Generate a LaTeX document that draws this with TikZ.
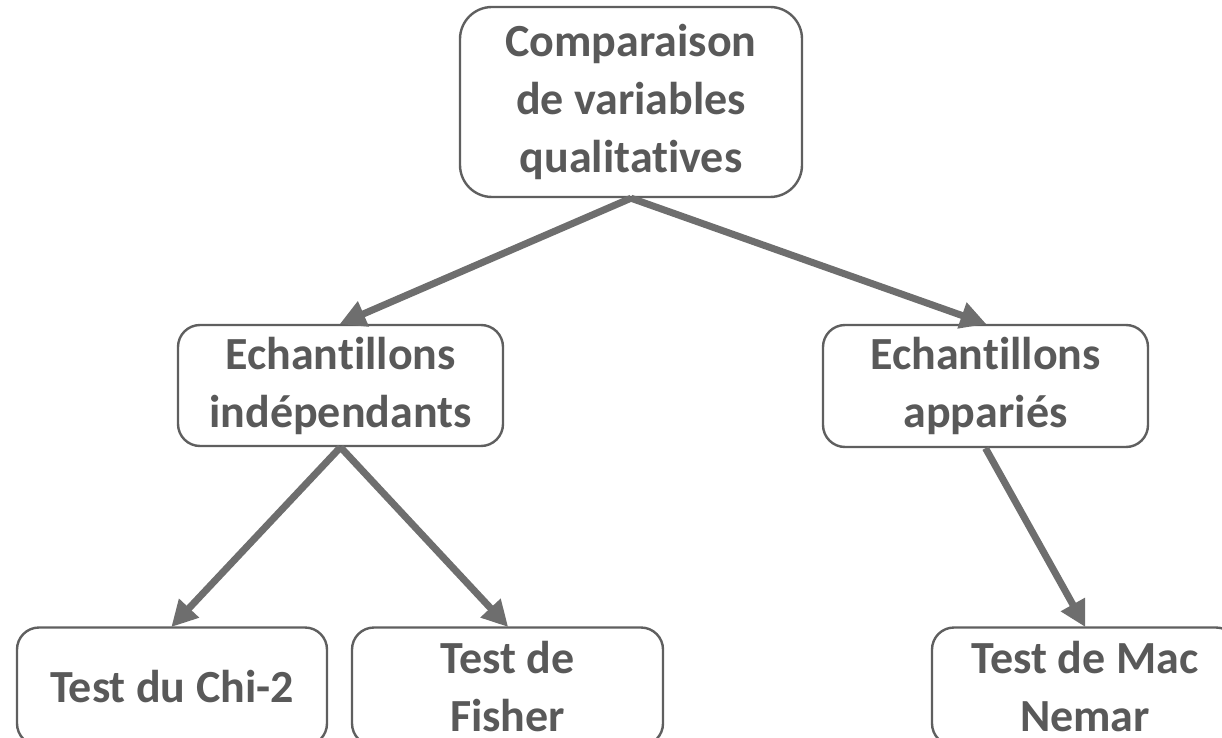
\documentclass[tikz,border=0pt]{standalone}
\usepackage{fontspec}
\setmainfont{Carlito}[Ligatures=NoCommon]
\usetikzlibrary{arrows.meta}
\definecolor{txtgray}{HTML}{595959}
\definecolor{boxgray}{HTML}{5F5F5F}
\definecolor{arrgray}{HTML}{6E6E6E}
\tikzset{
  box/.style={draw=boxgray, line width=2.4pt, fill=white, rounded corners=22pt,
    text=txtgray, align=center, inner sep=0pt,
    font=\fontsize{46}{58}\selectfont\bfseries},
  conn/.style={draw=arrgray, line width=7pt,
    -{Triangle[length=26pt,width=26pt]}, shorten >=-1pt}
}
\begin{document}
\begin{tikzpicture}[x=1pt,y=-1pt]
\useasboundingbox (0,0) rectangle (1222,738);
\node[box, rounded corners=32pt, minimum width=342pt, minimum height=190pt] (top) at (631,102)
  {Comparaison\\de variables\\qualitatives};
\node[box, minimum width=325pt, minimum height=121pt] (ind) at (340.5,385.5)
  {Echantillons\\indépendants};
\node[box, minimum width=325pt, minimum height=122pt] (app) at (985.5,386)
  {Echantillons\\appariés};
\node[box, minimum width=310pt, minimum height=118pt] (chi) at (172,686.5)
  {Test du Chi-2};
\node[box, minimum width=311pt, minimum height=118pt] (fis) at (507.5,686.5)
  {Test de\\Fisher};
\node[box, minimum width=306pt, minimum height=118pt] (mac) at (1085,686.5)
  {Test de Mac\\Nemar};
\draw[conn] (top.south) -- (ind.north);
\draw[conn] (top.south) -- (app.north);
\draw[conn] (ind.south) -- (chi.north);
\draw[conn] (ind.south) -- (fis.north);
\draw[conn] (app.south) -- (mac.north);
\end{tikzpicture}
\end{document}
